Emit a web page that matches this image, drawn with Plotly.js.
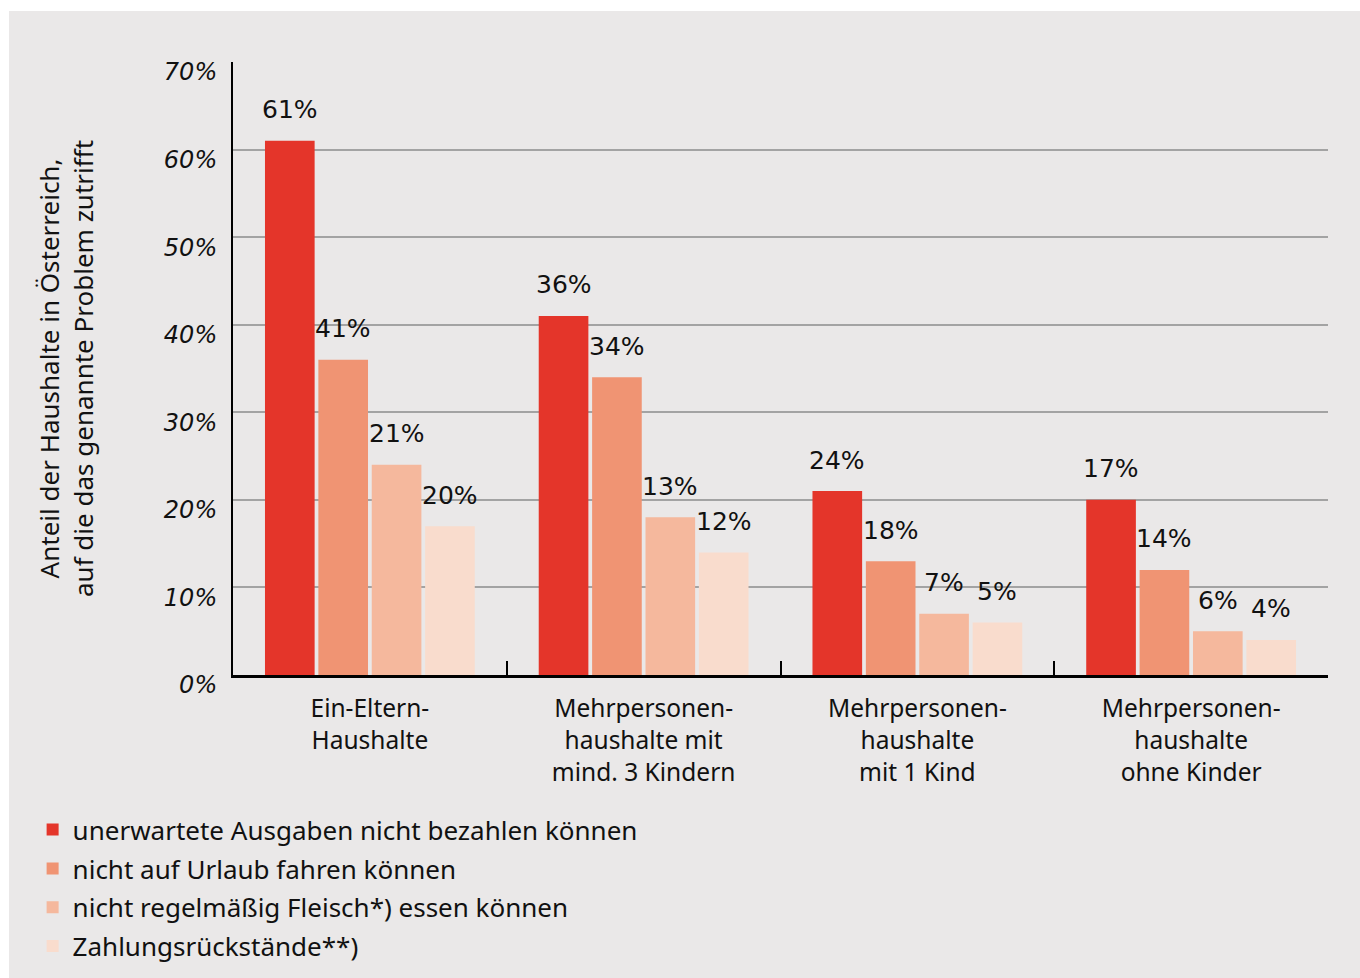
<!DOCTYPE html>
<html>
<head>
<meta charset="utf-8">
<script src="https://cdn.plot.ly/plotly-3.0.1.min.js"></script>
<style>
  html, body { margin: 0; padding: 0; background: #ffffff; overflow: hidden; }
  #chart { position: absolute; left: 9px; top: 11px; width: 1351px; height: 1010px; }
</style>
</head>
<body>
<div id="chart"></div>
<script>
// Categories (x axis)
const categories = [
  "Ein-Eltern-<br>Haushalte",
  "Mehrpersonen-<br>haushalte mit<br>mind. 3 Kindern",
  "Mehrpersonen-<br>haushalte<br>mit 1 Kind",
  "Mehrpersonen-<br>haushalte<br>ohne Kinder"
];

// Series names
const seriesNames = [
  "unerwartete Ausgaben nicht bezahlen können",
  "nicht auf Urlaub fahren können",
  "nicht regelmäßig Fleisch*) essen können",
  "Zahlungsrückstände**)"
];

// Bar heights (percent) as drawn
const unerwarteteAusgaben = [61, 41, 21, 20];
const keinUrlaub = [36, 34, 13, 12];
const keinFleisch = [24, 18, 7, 5];
const zahlungsrueckstaende = [17, 14, 6, 4];

// Value labels as printed above the bars
const labelsUnerwartete = ["61%", "36%", "24%", "17%"];
const labelsUrlaub = ["41%", "34%", "18%", "14%"];
const labelsFleisch = ["21%", "13%", "7%", "6%"];
const labelsRueckstaende = ["20%", "12%", "5%", "4%"];

// Y axis ticks
const yTickVals = [0, 10, 20, 30, 40, 50, 60, 70];
const yTickText = ["0%", "10%", "20%", "30%", "40%", "50%", "60%", "70%"];

const colors = ["#e4352a", "#f09473", "#f5b89d", "#f9dccd"];
const values = [unerwarteteAusgaben, keinUrlaub, keinFleisch, zahlungsrueckstaende];
const labels = [labelsUnerwartete, labelsUrlaub, labelsFleisch, labelsRueckstaende];

const BARGAP = 0.22;
const BARGROUPGAP = 0.07;

const traces = values.map((v, i) => ({
  type: "bar",
  name: seriesNames[i],
  x: categories,
  y: v,
  marker: { color: colors[i], line: { width: 0 } },
  legendgroup: "g" + i,
  hoverinfo: "skip"
}));

// Annotations for value labels, placed through the category axis scale
const nSeries = values.length;
const slot = (1 - BARGAP) / nSeries;
const annotations = [];
values.forEach((v, i) => {
  v.forEach((val, g) => {
    annotations.push({
      x: g + (i - (nSeries - 1) / 2) * slot,
      y: val,
      xref: "x",
      yref: "y",
      text: labels[i][g],
      showarrow: false,
      xanchor: "center",
      yanchor: "middle",
      yshift: 31,
      font: { family: "DejaVu Sans", size: 25, color: "#111111" }
    });
  });
});

const bg = "#eae8e8";

const layout = {
  width: 1351,
  height: 1010,
  paper_bgcolor: bg,
  plot_bgcolor: bg,
  margin: { l: 224, r: 32, t: 51, b: 346 },
  barmode: "group",
  bargap: BARGAP,
  bargroupgap: BARGROUPGAP,
  showlegend: true,
  legend: {
    x: -0.183,
    xanchor: "left",
    y: -0.214,
    yanchor: "top",
    bgcolor: "rgba(0,0,0,0)",
    font: { family: "Noto Sans", size: 26, color: "#111111" },
    traceorder: "grouped",
    tracegroupgap: 2
  },
  xaxis: {
    type: "category",
    showgrid: false,
    showline: true,
    linecolor: "#000000",
    linewidth: 3,
    ticks: "inside",
    tickson: "boundaries",
    ticklen: 14,
    tickwidth: 2,
    tickcolor: "#000000",
    ticklabelstandoff: 10,
    tickfont: { family: "Noto Sans", size: 24.5, color: "#111111" },
    fixedrange: true
  },
  yaxis: {
    range: [0, 70],
    tickvals: yTickVals,
    ticktext: yTickText,
    showgrid: true,
    gridcolor: "#a3a3a3",
    gridwidth: 2,
    zeroline: false,
    showline: true,
    linecolor: "#000000",
    linewidth: 2,
    ticks: "",
    ticklabelstandoff: 9,
    ticklabelshift: 10,
    tickfont: { family: "DejaVu Sans", size: 24, style: "italic", color: "#111111" },
    title: {
      text: "Anteil der Haushalte in Österreich,<br>auf die das genannte Problem zutrifft",
      font: { family: "Noto Sans", size: 26, color: "#111111" },
      standoff: 63
    },
    fixedrange: true
  },
  annotations: annotations
};

Plotly.newPlot("chart", traces, layout, { staticPlot: true, displayModeBar: false });
</script>
</body>
</html>
